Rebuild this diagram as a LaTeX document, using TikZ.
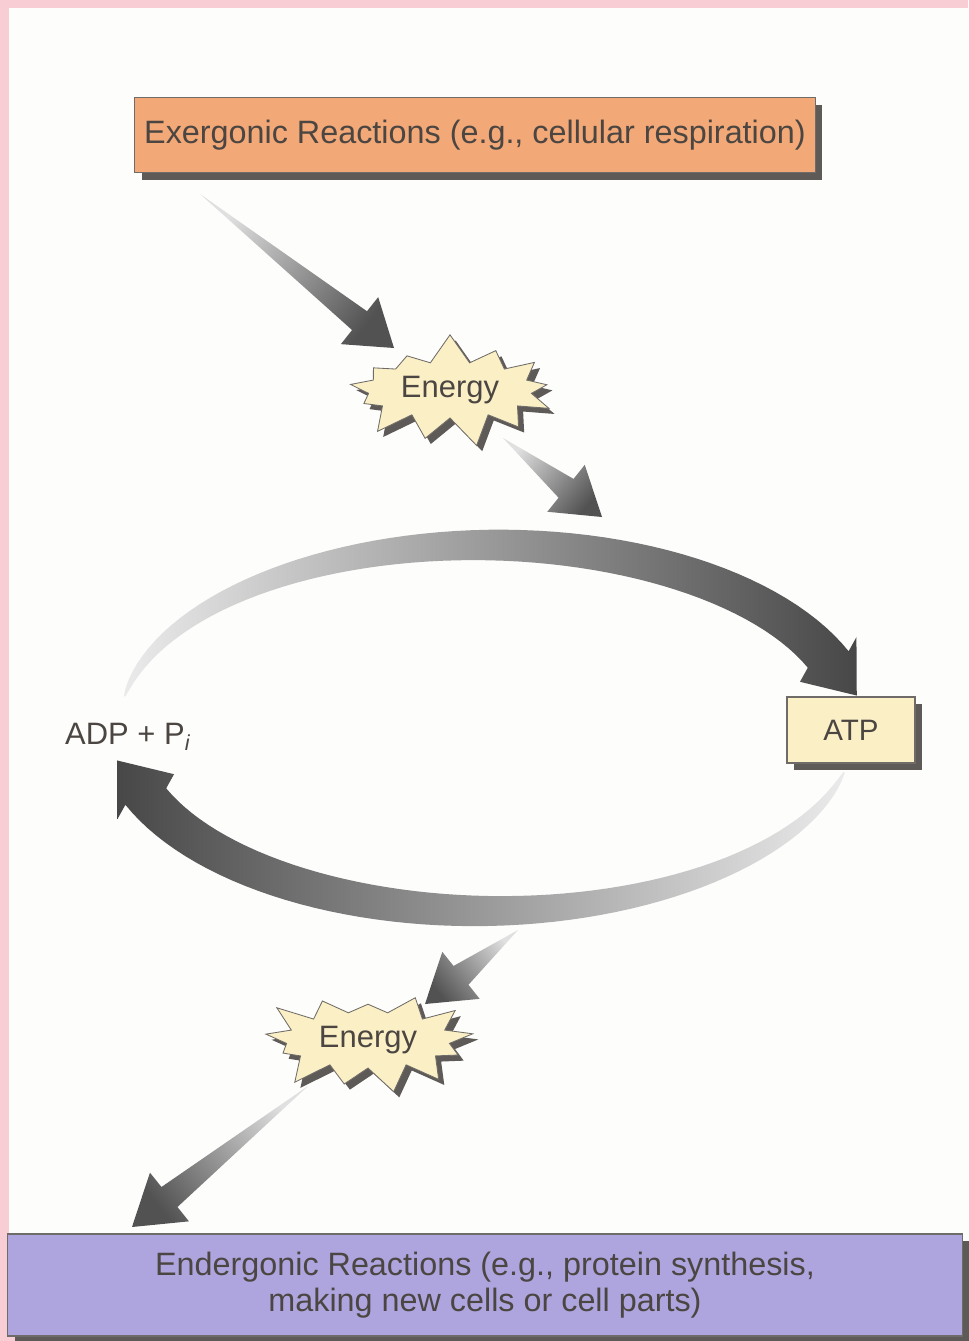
\documentclass[tikz,border=0pt]{standalone}
\usepackage{fontspec}
\setmainfont{Liberation Sans}
\usetikzlibrary{calc,shapes.symbols,shadows}

\definecolor{pagepink}{HTML}{F9CDD4}
\definecolor{paper}{HTML}{FDFDFB}
\definecolor{ink}{HTML}{4B4642}
\definecolor{exerfill}{HTML}{F3A877}
\definecolor{enderfill}{HTML}{AEA5DF}
\definecolor{cream}{HTML}{FBEFC6}
\definecolor{shadowgray}{HTML}{5E5A58}

\tikzset{
  boxshadow/.style={drop shadow={shadow xshift=5pt, shadow yshift=-5pt, fill=shadowgray, opacity=1}},
  reaction/.style={draw=ink!80, line width=0.8pt, text=ink, align=center,
    font=\fontsize{23}{26}\selectfont, inner sep=0pt, boxshadow},
  energyburst/.style={starburst, starburst points=13, starburst point height=0.75cm,
    fill=cream, draw=ink!80, line width=0.6pt, text=ink, font=\fontsize{22}{26}\selectfont,
    minimum width=5.6cm, minimum height=2.9cm, inner sep=0pt,
    drop shadow={shadow xshift=4pt, shadow yshift=-4pt, fill=shadowgray, opacity=1}},
  atpbox/.style={draw=ink!80, line width=0.8pt, fill=cream, text=ink,
    font=\fontsize{21}{25}\selectfont, minimum width=3.2cm, minimum height=1.65cm, boxshadow}
}

% tapered arrow: tail, tip, shaft half width, head half width, head length, shading angle
\newcommand\taperarrow[6]{%
  \coordinate (hb) at ($(#2)!#5!(#1)$);
  \shade[top color=black!12, bottom color=black!68, shading angle=#6]
    (#1) -- ($(hb)!#3!90:(#2)$) -- ($(hb)!#4!90:(#2)$) -- (#2)
    -- ($(hb)!#4!-90:(#2)$) -- ($(hb)!#3!-90:(#2)$) -- cycle;}

\begin{document}
\begin{tikzpicture}[x=0.025cm, y=-0.025cm]
    \useasboundingbox (0,0) rectangle (968,1341);
    \fill[pagepink] (0,0) rectangle (968,1341);
    \fill[paper] (9,8) rectangle (968,1337);

    % Reaction boxes
    \node[reaction, fill=exerfill, minimum width=17cm, minimum height=1.875cm] (exer) at (475,135)
        {Exergonic Reactions (e.g., cellular respiration)};
    \node[reaction, fill=enderfill, minimum width=23.85cm, minimum height=2.55cm] (ender) at (485,1285)
        {Endergonic Reactions (e.g., protein synthesis,\\ making new cells or cell parts)};

    % ATP / ADP
    \node[atpbox] (atp) at (851,730) {ATP};
    \node[text=ink, font=\fontsize{22}{26}\selectfont] (adp) at (128,737) {ADP + P\textsubscript{\textit{i}}};

    % Upper arc, ADP -> ATP
    \coordinate (u1) at ({487+368*cos(22)},{728-183*sin(22)});
    \coordinate (u2) at ({487+368*cos(21)},{728-183*sin(21)});
    \shade[left color=black!8, right color=black!72]
        plot[domain=170:22, samples=60, variable=\t]
            ({487+(368+22*((170.5-\t)/148.5)^0.6)*cos(\t)}, {728-(183+22*((170.5-\t)/148.5)^0.6)*sin(\t)})
        -- ($(u1)!0.9cm!90:(u2)$) -- ($(u1)!1.15cm!(u2)$) -- ($(u1)!0.9cm!-90:(u2)$)
        -- plot[domain=22:170, samples=60, variable=\t]
            ({487+(368-22*((170.5-\t)/148.5)^0.6)*cos(\t)}, {728-(183-22*((170.5-\t)/148.5)^0.6)*sin(\t)})
        -- cycle;

    % Lower arc, ATP -> ADP
    \coordinate (l1) at ({487+368*cos(-158)},{728-183*sin(-158)});
    \coordinate (l2) at ({487+368*cos(-159)},{728-183*sin(-159)});
    \shade[left color=black!72, right color=black!8]
        plot[domain=-14:-158, samples=60, variable=\t]
            ({487+(368+22*((-13.5-(\t))/144.5)^0.6)*cos(\t)}, {728-(183+22*((-13.5-(\t))/144.5)^0.6)*sin(\t)})
        -- ($(l1)!0.9cm!90:(l2)$) -- ($(l1)!1.15cm!(l2)$) -- ($(l1)!0.9cm!-90:(l2)$)
        -- plot[domain=-158:-14, samples=60, variable=\t]
            ({487+(368-22*((-13.5-(\t))/144.5)^0.6)*cos(\t)}, {728-(183-22*((-13.5-(\t))/144.5)^0.6)*sin(\t)})
        -- cycle;

    % Straight energy arrows
    \coordinate (t1) at (200,194);  \coordinate (h1) at (394,348);
    \coordinate (t2) at (503,438);  \coordinate (h2) at (602,517);
    \coordinate (t3) at (518,930);  \coordinate (h3) at (425,1004);
    \coordinate (t4) at (308,1086); \coordinate (h4) at (132,1227);
    \taperarrow{t1}{h1}{0.3cm}{0.75cm}{1.1cm}{52}
    \taperarrow{t2}{h2}{0.3cm}{0.75cm}{1.15cm}{51}
    \taperarrow{t3}{h3}{0.3cm}{0.75cm}{1.15cm}{-52}
    \taperarrow{t4}{h4}{0.32cm}{0.78cm}{1.2cm}{-51}

    % Energy bursts
    \node[energyburst, random starburst=7] (ein) at (450,390) {Energy};
    \node[energyburst, random starburst=23] (eout) at (368,1040) {Energy};
\end{tikzpicture}
\end{document}
